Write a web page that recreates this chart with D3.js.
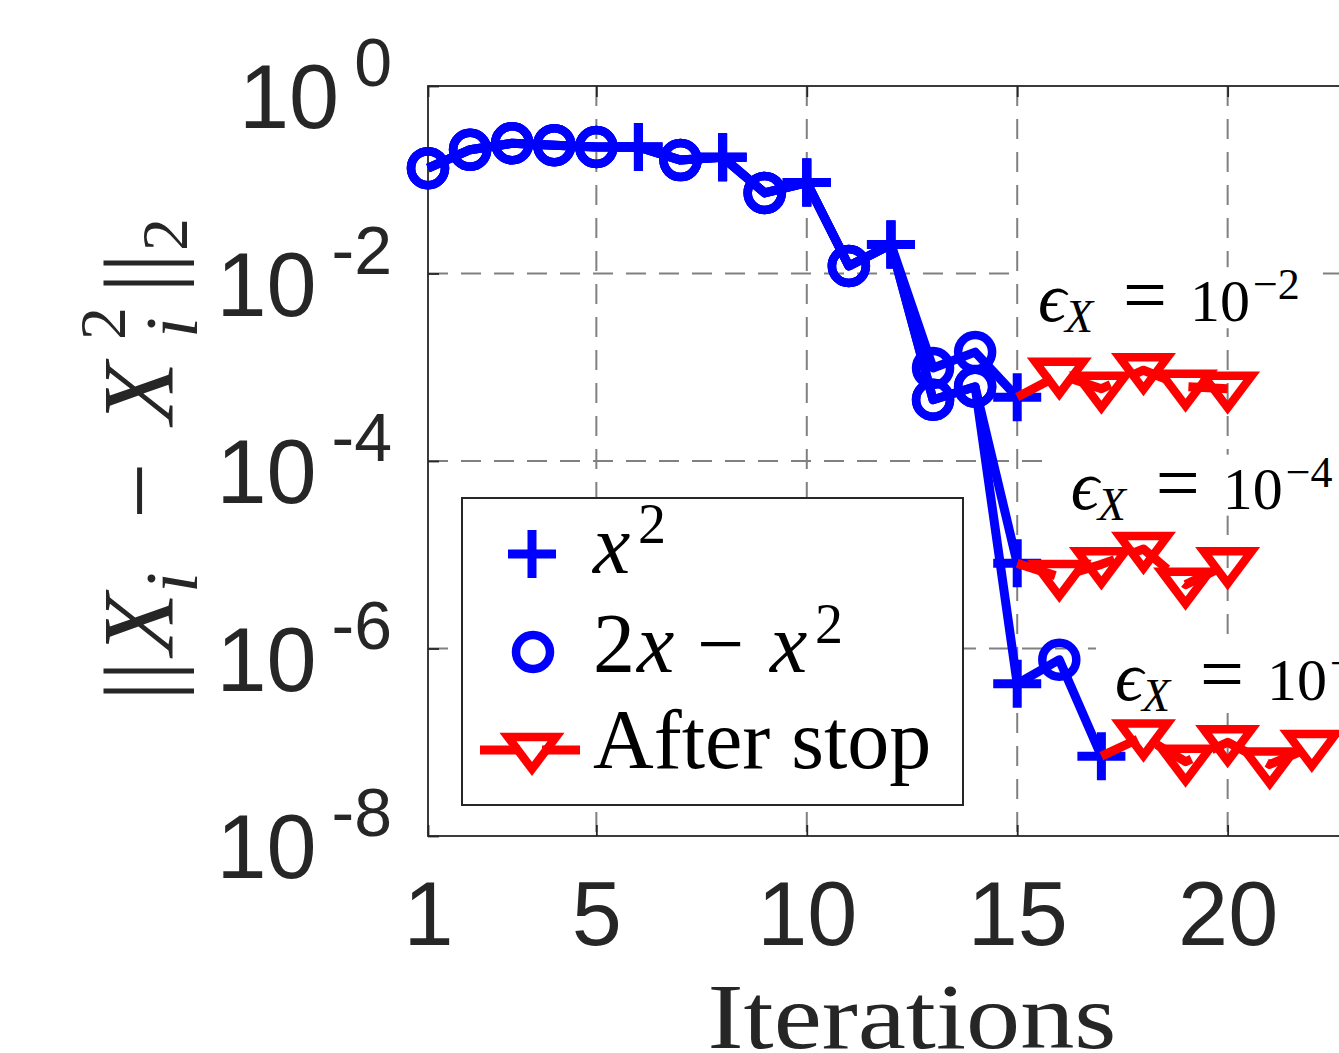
<!DOCTYPE html>
<html>
<head>
<meta charset="utf-8">
<script src="https://cdn.jsdelivr.net/npm/d3@7"></script>
<style>
  body { margin: 0; background: #fff; }
  svg { display: block; }
</style>
</head>
<body>
<script>
var width = 1339,
    height = 1053;

// iterations 1..12 are the same for every run
var sharedIter = [1, 2, 3, 4, 5, 6, 7, 8, 9, 10, 11, 12];
var sharedErr = [0.133, 0.209, 0.245, 0.234, 0.224, 0.224, 0.162, 0.174, 0.0724, 0.0933, 0.0120, 0.0204];
var sharedMark = ["o", "o", "o", "o", "o", "+", "o", "+", "o", "+", "o", "+"];

// the three runs after that (eps_X = 1e-2, 1e-4, 1e-6)
var runAIter = [13, 14, 15];
var runAErr = [9.8e-4, 1.45e-3, 4.8e-4];
var runAMark = ["o", "o", "+"];

var runBIter = [13, 14, 15];
var runBErr = [4.5e-4, 6.2e-4, 8.1e-6];
var runBMark = ["o", "o", "+"];

var runCIter = [13, 14, 15, 16, 17];
var runCErr = [4.5e-4, 6.2e-4, 4.2e-7, 7.6e-7, 7.1e-8];
var runCMark = ["o", "o", "+", "o", "+"];

// iterations after the stop
var stopAIter = [16, 17, 18, 19, 20];
var stopAErr = [8.3e-4, 5.9e-4, 9.3e-4, 6.2e-4, 5.9e-4];
var stopBIter = [16, 17, 18, 19, 20];
var stopBErr = [5.8e-6, 7.9e-6, 1.15e-5, 4.8e-6, 7.9e-6];
var stopCIter = [18, 19, 20, 21, 22];
var stopCErr = [1.15e-7, 6.2e-8, 1.0e-7, 5.8e-8, 8.9e-8];

var epsExp = ["\u22122", "\u22124", "\u22126"];
var epsAtIter = [15.54, 16.32, 17.37];
var epsAtErr = [3.1e-3, 3.1e-5, 2.8e-7];

var xTicks = [1, 5, 10, 15, 20];
var yTicks = [1, 1e-2, 1e-4, 1e-6, 1e-8];
var yTickExp = ["0", "-2", "-4", "-6", "-8"];

var ink = "#262626",
    gridCol = "#808080",
    blue = "#0000ff",
    red = "#ff0000",
    sans = "'Liberation Sans', Arial, Helvetica, sans-serif",
    serif = "'Liberation Serif', 'Times New Roman', 'DejaVu Serif', serif";

var svg = d3.select("body").append("svg")
    .attr("width", width)
    .attr("height", height);

var x = d3.scaleLinear().domain([1, 24]).range([428, 1396]);
var y = d3.scaleLog().domain([1e-8, 1]).range([836, 86]);

// dashed grid
var grid = svg.append("g")
    .attr("stroke", gridCol)
    .attr("stroke-width", 2)
    .attr("stroke-dasharray", "20,13");

grid.selectAll(".gx")
    .data(xTicks.filter(d => d > 1))
    .enter().append("line")
    .attr("x1", d => x(d)).attr("x2", d => x(d))
    .attr("y1", y.range()[1]).attr("y2", y.range()[0]);

grid.selectAll(".gy")
    .data(yTicks.slice(1, -1))
    .enter().append("line")
    .attr("y1", d => y(d)).attr("y2", d => y(d))
    .attr("x1", x.range()[0]).attr("x2", x.range()[1]);

// axes: ticks point inward like matlab
function styleAxis(g) {
    g.select(".domain").remove();
    g.selectAll(".tick line").attr("stroke", ink).attr("stroke-width", 1.8);
}

svg.append("g")
    .attr("transform", "translate(0," + y.range()[0] + ")")
    .call(d3.axisBottom(x).tickValues(xTicks).tickSizeInner(-11).tickSizeOuter(0).tickFormat(d3.format("d")))
    .call(styleAxis)
    .call(g => g.selectAll("text")
        .attr("y", 109).attr("dy", null)
        .attr("fill", ink)
        .style("font-family", sans)
        .style("font-size", "90px"));

svg.append("g")
    .attr("transform", "translate(0," + y.range()[1] + ")")
    .call(d3.axisTop(x).tickValues(xTicks).tickSizeInner(-11).tickSizeOuter(0).tickFormat(""))
    .call(styleAxis);

svg.append("g")
    .attr("transform", "translate(" + x.range()[0] + ",0)")
    .call(d3.axisLeft(y).tickValues(yTicks).tickSizeInner(-11).tickSizeOuter(0).tickFormat(""))
    .call(styleAxis);

svg.append("rect")
    .attr("x", x.range()[0]).attr("y", y.range()[1])
    .attr("width", x.range()[1] - x.range()[0])
    .attr("height", y.range()[0] - y.range()[1])
    .attr("fill", "none")
    .attr("stroke", ink)
    .attr("stroke-width", 1.8);

// y tick labels 10^k
var ylab = svg.append("g").selectAll("text")
    .data(yTicks)
    .enter().append("text")
    .attr("x", x.range()[0] - 36)
    .attr("y", d => y(d) + 42)
    .attr("text-anchor", "end")
    .attr("fill", ink)
    .style("font-family", sans)
    .style("font-size", "90px");
ylab.append("tspan").text("10");
ylab.append("tspan")
    .attr("dx", 15).attr("dy", -42)
    .style("font-size", "68px")
    .text((d, i) => yTickExp[i]);

// axis titles
svg.append("text")
    .attr("x", (x(1) + x(24)) / 2)
    .attr("y", 1048)
    .attr("text-anchor", "middle")
    .attr("fill", ink)
    .style("font-family", serif)
    .style("font-size", "94px")
    .attr("textLength", 409)
    .attr("lengthAdjust", "spacingAndGlyphs")
    .text("Iterations");

var yt = svg.append("g")
    .attr("transform", "translate(173,697) rotate(-90)")
    .attr("fill", ink)
    .style("font-family", serif);
var ytParts = [
    { t: "||", x: -4, dy: 0, fs: 100, it: false },
    { t: "X", x: 42, dy: 0, fs: 102, it: true },
    { t: "i", x: 104, dy: 24, fs: 75, it: true },
    { t: "\u2212", x: 178, dy: 0, fs: 100, it: false },
    { t: "X", x: 273, dy: 0, fs: 102, it: true },
    { t: "2", x: 357, dy: -48, fs: 66, it: false },
    { t: "i", x: 359, dy: 24, fs: 75, it: true },
    { t: "||", x: 404, dy: 0, fs: 100, it: false },
    { t: "2", x: 446, dy: 14, fs: 66, it: false }
];
yt.selectAll("text").data(ytParts).enter().append("text")
    .attr("x", d => d.x).attr("y", d => d.dy)
    .style("font-size", d => d.fs + "px")
    .style("font-style", d => d.it ? "italic" : "normal")
    .text(d => d.t);

// data
function buildRun(iters, errs, marks) {
    var pts = sharedIter.map((it, k) => ({ i: it, e: sharedErr[k], m: sharedMark[k] }));
    return pts.concat(iters.map((it, k) => ({ i: it, e: errs[k], m: marks[k] })));
}
var runs = [
    buildRun(runAIter, runAErr, runAMark),
    buildRun(runBIter, runBErr, runBMark),
    buildRun(runCIter, runCErr, runCMark)
];
var stops = [
    stopAIter.map((it, k) => ({ i: it, e: stopAErr[k], m: "v" })),
    stopBIter.map((it, k) => ({ i: it, e: stopBErr[k], m: "v" })),
    stopCIter.map((it, k) => ({ i: it, e: stopCErr[k], m: "v" }))
];

var line = d3.line().x(d => x(d.i)).y(d => y(d.e));

function drawMarker(sel, color) {
    sel.each(function (d) {
        var g = d3.select(this);
        if (d.m === "o") {
            g.append("circle").attr("r", 17)
                .attr("fill", "none").attr("stroke", color).attr("stroke-width", 8.5);
        } else if (d.m === "+") {
            g.append("path").attr("d", "M-24,0H24M0,-24V24")
                .attr("fill", "none").attr("stroke", color).attr("stroke-width", 9);
        } else {
            g.append("path").attr("d", "M-24,-13L24,-13L0,19Z")
                .attr("fill", "none").attr("stroke", color).attr("stroke-width", 8.5)
                .attr("stroke-linejoin", "miter");
        }
    });
}

var plot = svg.append("g");

plot.selectAll(".blueline")
    .data(runs)
    .enter().append("path")
    .attr("d", line)
    .attr("fill", "none")
    .attr("stroke", blue)
    .attr("stroke-width", 9)
    .attr("stroke-linejoin", "round");

runs.forEach(function (run) {
    plot.append("g").selectAll("g")
        .data(run)
        .enter().append("g")
        .attr("transform", d => "translate(" + x(d.i) + "," + y(d.e) + ")")
        .call(drawMarker, blue);
});

stops.forEach(function (pts, k) {
    var last = runs[k][runs[k].length - 1];
    plot.append("path")
        .datum([last].concat(pts))
        .attr("d", line)
        .attr("fill", "none")
        .attr("stroke", red)
        .attr("stroke-width", 9)
        .attr("stroke-dasharray", "40,22")
        .attr("stroke-linejoin", "round");
    plot.append("g").selectAll("g")
        .data(pts)
        .enter().append("g")
        .attr("transform", d => "translate(" + x(d.i) + "," + y(d.e) + ")")
        .call(drawMarker, red);
});

// eps_X annotations with white background
epsExp.forEach(function (ex, k) {
    var x0 = x(epsAtIter[k]),
        y0 = y(epsAtErr[k]);
    var g = svg.append("g").attr("transform", "translate(" + x0 + "," + y0 + ")");
    g.append("rect")
        .attr("x", -21).attr("y", -54)
        .attr("width", 304).attr("height", 61)
        .attr("fill", "#fff");
    var t = g.append("text")
        .attr("fill", "#000")
        .style("font-family", serif)
        .style("font-size", "64px");
    t.append("tspan").attr("x", -2).attr("y", 0).style("font-style", "italic").style("font-size", "70px").text("\u03f5");
    t.append("tspan").attr("x", 25).attr("y", 11).style("font-style", "italic").style("font-size", "46px").text("X");
    t.append("tspan").attr("x", 83).attr("y", 0).style("font-size", "78px").text("=");
    t.append("tspan").attr("x", 150).attr("y", 0).style("font-size", "60px").text("10");
    t.append("tspan").attr("x", 213).attr("y", -22).style("font-size", "44px").text(ex);
});

// legend
var legend = svg.append("g");
legend.append("rect")
    .attr("x", 462).attr("y", 498)
    .attr("width", 501).attr("height", 307)
    .attr("fill", "#fff")
    .attr("stroke", ink)
    .attr("stroke-width", 2);

legend.append("g")
    .datum({ m: "+" })
    .attr("transform", "translate(532,554)")
    .call(drawMarker, blue);
legend.append("g")
    .datum({ m: "o" })
    .attr("transform", "translate(533,652)")
    .call(drawMarker, blue);
legend.append("line")
    .attr("x1", 480).attr("x2", 580)
    .attr("y1", 750).attr("y2", 750)
    .attr("stroke", red)
    .attr("stroke-width", 9)
    .attr("stroke-dasharray", "40,22");
legend.append("g")
    .datum({ m: "v" })
    .attr("transform", "translate(532,750)")
    .call(drawMarker, red);

var lt = legend.append("g")
    .attr("fill", "#000")
    .style("font-family", serif)
    .style("font-size", "84px");

var e1 = lt.append("text");
e1.append("tspan").attr("x", 593).attr("y", 573).style("font-style", "italic").text("x");
e1.append("tspan").attr("x", 638).attr("y", 543).style("font-size", "56px").text("2");

var e2 = lt.append("text");
e2.append("tspan").attr("x", 593).attr("y", 672).text("2");
e2.append("tspan").attr("x", 637).attr("y", 672).style("font-style", "italic").text("x");
e2.append("tspan").attr("x", 697).attr("y", 672).text("\u2212");
e2.append("tspan").attr("x", 770).attr("y", 672).style("font-style", "italic").text("x");
e2.append("tspan").attr("x", 815).attr("y", 643).style("font-size", "56px").text("2");

lt.append("text").attr("x", 593).attr("y", 768).text("After stop");
</script>
</body>
</html>
